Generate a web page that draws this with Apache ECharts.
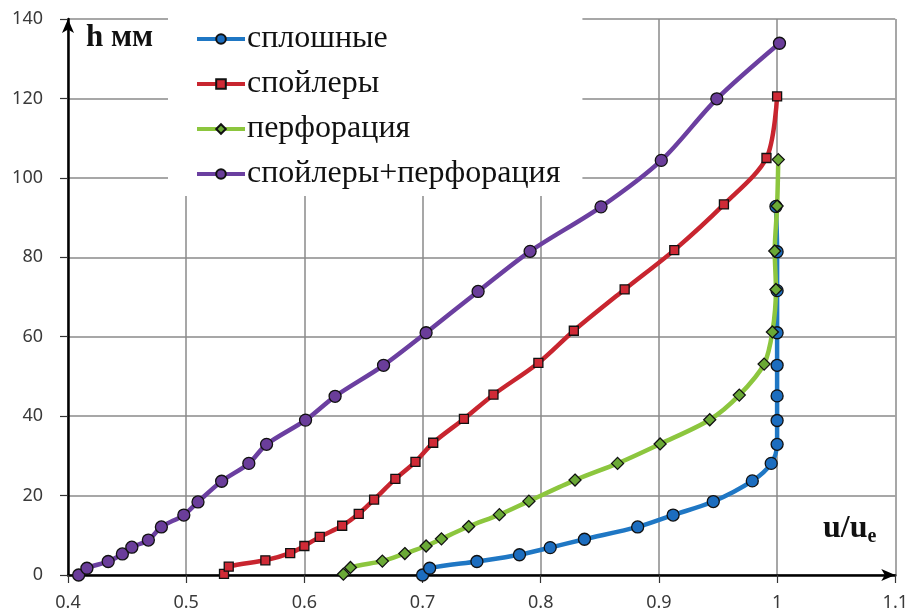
<!DOCTYPE html>
<html>
<head>
<meta charset="utf-8">
<script src="https://cdn.jsdelivr.net/npm/echarts@6/dist/echarts.min.js"></script>
<style>html,body{margin:0;padding:0;background:#fff}#c{width:911px;height:616px}</style>
</head>
<body>
<div id="c"></div>
<script>
const seriesNames = ['сплошные', 'спойлеры', 'перфорация', 'спойлеры+перфорация'];
const xTicks = [0.4, 0.5, 0.6, 0.7, 0.8, 0.9, 1.0, 1.1];
const yTicks = [0, 20, 40, 60, 80, 100, 120, 140];

// [u/ue, h mm]
const solid = [
  [0.700, 0], [0.706, 1.7], [0.746, 3.4], [0.782, 5.1], [0.808, 6.9], [0.837, 9.0],
  [0.882, 12.1], [0.912, 15.1], [0.946, 18.5], [0.979, 23.7], [0.995, 28.1],
  [1.000, 32.9], [1.000, 38.9], [1.000, 45.1], [1.000, 52.8], [1.000, 61.0],
  [1.000, 71.6], [1.000, 81.4], [0.999, 92.8]
];
const spoilers = [
  [0.532, 0.3], [0.536, 2.1], [0.567, 3.7], [0.588, 5.5], [0.600, 7.3], [0.613, 9.6],
  [0.632, 12.4], [0.646, 15.4], [0.659, 19.0], [0.677, 24.2], [0.694, 28.5],
  [0.709, 33.3], [0.735, 39.3], [0.760, 45.4], [0.798, 53.4], [0.828, 61.5],
  [0.871, 71.9], [0.913, 81.8], [0.955, 93.3], [0.991, 105.0], [1.000, 120.5]
];
const perforation = [
  [0.633, 0.2], [0.639, 1.9], [0.666, 3.5], [0.685, 5.4], [0.703, 7.3], [0.716, 9.1],
  [0.739, 12.2], [0.765, 15.2], [0.790, 18.6], [0.829, 23.9], [0.865, 28.1],
  [0.901, 33.0], [0.943, 39.1], [0.968, 45.3], [0.989, 53.1], [0.996, 61.2],
  [0.999, 71.9], [0.998, 81.6], [1.000, 92.9], [1.001, 104.6]
];
const spoilersPerf = [
  [0.409, 0], [0.416, 1.7], [0.434, 3.4], [0.446, 5.3], [0.454, 7.0], [0.468, 8.8],
  [0.479, 12.1], [0.498, 15.1], [0.510, 18.4], [0.530, 23.6], [0.553, 28.1],
  [0.568, 32.9], [0.601, 39.0], [0.626, 45.0], [0.667, 52.8], [0.703, 61.0],
  [0.747, 71.4], [0.791, 81.5], [0.851, 92.7], [0.902, 104.4], [0.949, 119.9],
  [1.002, 133.9]
];

const chart = echarts.init(document.getElementById('c'), null, {renderer: 'canvas'});
const tickFont = {fontFamily: 'Noto Sans', fontSize: 18, color: '#3a3a3a'};

function mk(name, data, lineColor, fill, symbol, size) {
  return {
    name: name, type: 'line', data: data, smooth: 0.3,
    symbol: symbol, symbolSize: size, showSymbol: true,
    lineStyle: {color: lineColor, width: 4.5},
    itemStyle: {color: fill, borderColor: '#111', borderWidth: 1.3},
    emphasis: {disabled: true}, animation: false
  };
}

chart.setOption({
  animation: false,
  backgroundColor: '#fff',
  grid: {left: 68, right: 14, top: 19, bottom: 41},
  legend: {
    left: 168, top: 0, orient: 'vertical',
    backgroundColor: '#fff',
    padding: [23, 22, 6, 27],
    itemWidth: 48, itemHeight: 12, itemGap: 13,
    lineStyle: {width: 4},
    textStyle: {fontFamily: 'Liberation Serif', fontSize: 32, color: '#111', padding: [0, 0, 0, -3]},
    data: seriesNames
  },
  xAxis: {
    type: 'value', min: xTicks[0], max: xTicks[xTicks.length - 1], interval: 0.1,
    axisLine: {show: true, onZero: true, symbol: ['none', 'arrow'], symbolSize: [9, 14], symbolOffset: [0, 0],
      lineStyle: {color: '#000', width: 2.5}},
    axisTick: {show: true, inside: false, length: 8, lineStyle: {color: '#333', width: 1.2}},
    axisLabel: Object.assign({margin: 19, formatter: v => String(parseFloat(v.toFixed(1)))}, tickFont),
    splitLine: {show: true, lineStyle: {color: '#8a8a8a', width: 1.5}}
  },
  yAxis: {
    type: 'value', min: yTicks[0], max: yTicks[yTicks.length - 1], interval: 20,
    axisLine: {show: true, onZero: false, symbol: ['none', 'arrow'], symbolSize: [9, 14],
      lineStyle: {color: '#000', width: 2.5}},
    axisTick: {show: true, inside: false, length: 8, lineStyle: {color: '#333', width: 1.2}},
    axisLabel: Object.assign({margin: 25}, tickFont),
    splitLine: {show: true, lineStyle: {color: '#8a8a8a', width: 1.5}}
  },
  graphic: [
    {type: 'text', left: 86, top: 22, z: 100,
      style: {text: 'h мм', fontFamily: 'Liberation Serif', fontWeight: 'bold', fontSize: 31, fill: '#111'}},
    {type: 'text', left: 823, top: 513, z: 100,
      style: {text: '{a|u/u}{b|e}', fontFamily: 'Liberation Serif',
        rich: {
          a: {fontFamily: 'Liberation Serif', fontWeight: 'bold', fontSize: 32, fill: '#111', color: '#111'},
          b: {fontFamily: 'Liberation Serif', fontWeight: 'bold', fontSize: 20, fill: '#111', color: '#111', padding: [16, 0, 0, 0]}
        }}}
  ],
  series: [
    mk(seriesNames[0], solid, '#1f77c4', '#1c6dbf', 'circle', 12),
    mk(seriesNames[1], spoilers, '#c8252f', '#d02a36', 'rect', 9),
    mk(seriesNames[2], perforation, '#8cc63e', '#6aa936', 'diamond', 12),
    mk(seriesNames[3], spoilersPerf, '#6b3fa0', '#6a3d9a', 'circle', 12)
  ]
});
</script>
</body>
</html>
